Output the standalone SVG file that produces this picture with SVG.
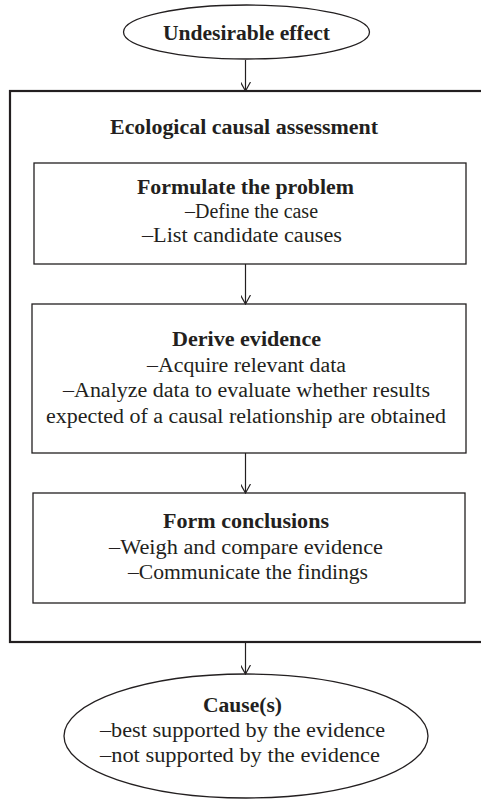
<svg xmlns="http://www.w3.org/2000/svg" width="481" height="800" viewBox="0 0 481 800">
<defs>
<marker id="arr" viewBox="0 0 10 10" refX="9" refY="5" markerWidth="10" markerHeight="10" markerUnits="userSpaceOnUse" orient="auto">
<path d="M0,0 L9,5 L0,10" fill="none" stroke="#231f20" stroke-width="1.2"/>
</marker>
<style>
text{font-family:"Liberation Serif","DejaVu Serif","Times New Roman",serif;font-size:20px;fill:#231f20;text-anchor:middle}
.b{font-weight:bold}
.box{fill:#fff;stroke:#231f20;stroke-width:1.3}
.frame{fill:none;stroke:#231f20;stroke-width:2.2}
.conn line{stroke:#231f20;stroke-width:1.2;marker-end:url(#arr)}
</style>
</defs>
<rect width="481" height="800" fill="#fff"/>
<g id="frame">
<rect class="frame" x="10" y="91" width="480" height="551"/>
<text class="b" x="244" y="134" textLength="268" lengthAdjust="spacingAndGlyphs">Ecological causal assessment</text>
</g>
<g id="effect">
<ellipse class="box" cx="246.5" cy="32" rx="123" ry="27"/>
<text class="b" x="246.5" y="40" textLength="167" lengthAdjust="spacingAndGlyphs">Undesirable effect</text>
</g>
<g id="formulate">
<rect class="box" x="34" y="163" width="432" height="101"/>
<text class="b" x="245.5" y="194" textLength="217" lengthAdjust="spacingAndGlyphs">Formulate the problem</text>
<text x="251.5" y="218" textLength="133" lengthAdjust="spacingAndGlyphs">–Define the case</text>
<text x="242" y="242" textLength="200" lengthAdjust="spacingAndGlyphs">–List candidate causes</text>
</g>
<g id="derive">
<rect class="box" x="32" y="304" width="434" height="149"/>
<text class="b" x="246.5" y="346" textLength="149" lengthAdjust="spacingAndGlyphs">Derive evidence</text>
<text x="246.5" y="372" textLength="199" lengthAdjust="spacingAndGlyphs">–Acquire relevant data</text>
<text x="246.5" y="397" textLength="367" lengthAdjust="spacingAndGlyphs">–Analyze data to evaluate whether results</text>
<text x="246" y="423" textLength="400" lengthAdjust="spacingAndGlyphs">expected of a causal relationship are obtained</text>
</g>
<g id="conclusions">
<rect class="box" x="33" y="493" width="432" height="110"/>
<text class="b" x="246" y="528" textLength="166" lengthAdjust="spacingAndGlyphs">Form conclusions</text>
<text x="246" y="554" textLength="274" lengthAdjust="spacingAndGlyphs">–Weigh and compare evidence</text>
<text x="248" y="579" textLength="240" lengthAdjust="spacingAndGlyphs">–Communicate the findings</text>
</g>
<g id="causes">
<ellipse class="box" cx="246" cy="736" rx="182" ry="62"/>
<text class="b" x="242.5" y="712" textLength="79" lengthAdjust="spacingAndGlyphs">Cause(s)</text>
<text x="242.5" y="737" textLength="285" lengthAdjust="spacingAndGlyphs">–best supported by the evidence</text>
<text x="240" y="762" textLength="280" lengthAdjust="spacingAndGlyphs">–not supported by the evidence</text>
</g>
<g class="conn" id="connectors">
<line x1="245.5" y1="60" x2="245.5" y2="91"/>
<line x1="245.5" y1="264" x2="245.5" y2="304"/>
<line x1="245.5" y1="453" x2="245.5" y2="493"/>
<line x1="245.5" y1="643" x2="245.5" y2="674"/>
</g>
</svg>
